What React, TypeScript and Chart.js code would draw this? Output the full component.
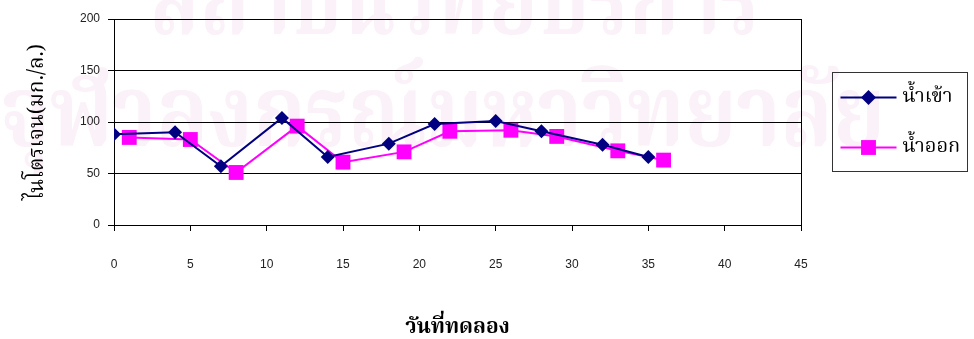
import React, { useEffect, useRef } from "react";
import { Chart, registerables } from "chart.js";

Chart.register(...registerables);

// Sampling days and nitrogen readings (mg/L)
const inflowDays = [0, 4, 7, 11, 14, 18, 21, 25, 28, 32, 35];
const inflowValues = [88, 90, 57, 104, 66, 79, 98, 101, 91, 78, 66];
const outflowDays = [1, 5, 8, 12, 15, 19, 22, 26, 29, 33, 36];
const outflowValues = [85, 83, 51, 96, 61, 71, 91, 92, 86, 72, 63];

const seriesLabels = ["น้ำเข้า", "น้ำออก"];
const xTitle = "วันที่ทดลอง";
const yTitle = "ไนโตรเจน(มก./ล.)";
const watermarkLines = ["สถาบันวิทยบริการ", "จุฬาลงกรณ์มหาวิทยาลัย"];

const THAI_FONT = "'Noto Serif Thai', 'Noto Sans Thai', Norasi, Garuda, Loma, 'DejaVu Serif', serif";
const TICK_FONT = "'Liberation Sans', Arial, sans-serif";

const NAVY = "#000080";
const MAGENTA = "#ff00ff";

// Faint institutional watermark behind the plot
const watermarkPlugin = {
  id: "watermark",
  beforeDraw(chart: any) {
    const ctx = chart.ctx as CanvasRenderingContext2D;
    ctx.save();
    ctx.fillStyle = "#fbf1f8";
    ctx.textBaseline = "alphabetic";
    ctx.textAlign = "left";
    const rows = [
      { text: watermarkLines[0], x: 150, y: 34, w: 610, size: 100 },
      { text: watermarkLines[1], x: 0, y: 146, w: 885, size: 100 },
    ];
    for (const r of rows) {
      ctx.font = `bold ${r.size}px ${THAI_FONT}`;
      const m = ctx.measureText(r.text).width || 1;
      ctx.save();
      ctx.translate(r.x, r.y);
      ctx.scale(r.w / m, 1);
      ctx.fillText(r.text, 0, 0);
      ctx.restore();
    }
    ctx.restore();
  },
};

function drawMarker(ctx: CanvasRenderingContext2D, style: string, x: number, y: number, r: number, color: string) {
  ctx.fillStyle = color;
  ctx.beginPath();
  if (style === "rectRot") {
    ctx.moveTo(x, y - r);
    ctx.lineTo(x + r, y);
    ctx.lineTo(x, y + r);
    ctx.lineTo(x - r, y);
    ctx.closePath();
  } else {
    const s = Math.SQRT1_2 * r;
    ctx.rect(x - s, y - s, 2 * s, 2 * s);
  }
  ctx.fill();
}

// Boxed legend to the right of the plot, plus the plot's right border
const boxLegendPlugin = {
  id: "boxLegend",
  afterDraw(chart: any) {
    const ctx = chart.ctx as CanvasRenderingContext2D;
    const area = chart.chartArea;
    ctx.save();
    ctx.strokeStyle = "#000000";
    ctx.lineWidth = 1;
    ctx.beginPath();
    ctx.moveTo(Math.round(area.right) + 0.5, area.top);
    ctx.lineTo(Math.round(area.right) + 0.5, area.bottom);
    ctx.stroke();

    const bx = area.right + 31.5;
    const by = 72.5;
    const bw = 135;
    const bh = 99;
    ctx.strokeStyle = "#333333";
    ctx.strokeRect(bx, by, bw, bh);

    const rowsY = [97.5, 147.5];
    chart.data.datasets.forEach((ds: any, i: number) => {
      const y = rowsY[i];
      ctx.strokeStyle = ds.borderColor;
      ctx.lineWidth = 2;
      ctx.beginPath();
      ctx.moveTo(bx + 8, y);
      ctx.lineTo(bx + 64, y);
      ctx.stroke();
      drawMarker(ctx, ds.pointStyle, bx + 36, y, ds.pointStyle === "rectRot" ? 7.5 : 10.5, ds.backgroundColor);
      ctx.fillStyle = "#000000";
      ctx.font = `20px ${THAI_FONT}`;
      ctx.textAlign = "left";
      ctx.textBaseline = "middle";
      ctx.fillText(ds.label, bx + 70, y + 1);
    });
    ctx.restore();
  },
};

export default function App() {
  const canvasRef = useRef<HTMLCanvasElement | null>(null);

  useEffect(() => {
    const canvas = canvasRef.current;
    if (!canvas) return;
    const chart = new Chart(canvas, {
      type: "line",
      data: {
        datasets: [
          {
            label: seriesLabels[0],
            data: inflowDays.map((d, i) => ({ x: d, y: inflowValues[i] })),
            borderColor: NAVY,
            backgroundColor: NAVY,
            borderWidth: 2,
            pointStyle: "rectRot",
            pointRadius: 7,
            pointHoverRadius: 7,
            pointBorderWidth: 0,
            tension: 0,
          },
          {
            label: seriesLabels[1],
            data: outflowDays.map((d, i) => ({ x: d, y: outflowValues[i] })),
            borderColor: MAGENTA,
            backgroundColor: MAGENTA,
            borderWidth: 2,
            pointStyle: "rect",
            pointRadius: 10.5,
            pointHoverRadius: 10.5,
            pointBorderWidth: 0,
            tension: 0,
          },
        ],
      },
      options: {
        animation: false,
        responsive: true,
        maintainAspectRatio: false,
        layout: { padding: { left: 0, top: 19, right: 173, bottom: 0 } },
        plugins: {
          legend: { display: false },
          tooltip: { enabled: false },
        },
        scales: {
          x: {
            type: "linear",
            min: 0,
            max: 45,
            afterFit: (scale: any) => {
              scale.height = 114;
            },
            ticks: {
              stepSize: 5,
              color: "#222222",
              font: { family: TICK_FONT, size: 12 },
              padding: 26,
              maxRotation: 0,
            },
            grid: {
              drawOnChartArea: false,
              drawTicks: true,
              tickLength: 6,
              color: "#000000",
            },
            border: { display: true, color: "#000000", width: 1 },
            title: {
              display: true,
              text: xTitle,
              color: "#000000",
              font: { family: THAI_FONT, size: 21, weight: "bold" },
              padding: { top: 0, bottom: -3 },
            },
          },
          y: {
            min: 0,
            max: 200,
            afterFit: (scale: any) => {
              scale.width = 114;
            },
            ticks: {
              stepSize: 50,
              color: "#222222",
              font: { family: TICK_FONT, size: 12 },
              padding: 8,
            },
            grid: {
              color: "#000000",
              lineWidth: 1,
              tickLength: 6,
            },
            border: { display: true, color: "#000000", width: 1 },
            title: {
              display: true,
              text: yTitle,
              color: "#000000",
              font: { family: THAI_FONT, size: 21 },
              padding: { top: 27, bottom: 0 },
            },
          },
        },
      },
      plugins: [watermarkPlugin, boxLegendPlugin],
    });
    return () => chart.destroy();
  }, []);

  return (
    <div style={{ position: "fixed", left: 0, top: 0, width: 974, height: 339, background: "#ffffff" }}>
      <canvas ref={canvasRef} />
    </div>
  );
}
